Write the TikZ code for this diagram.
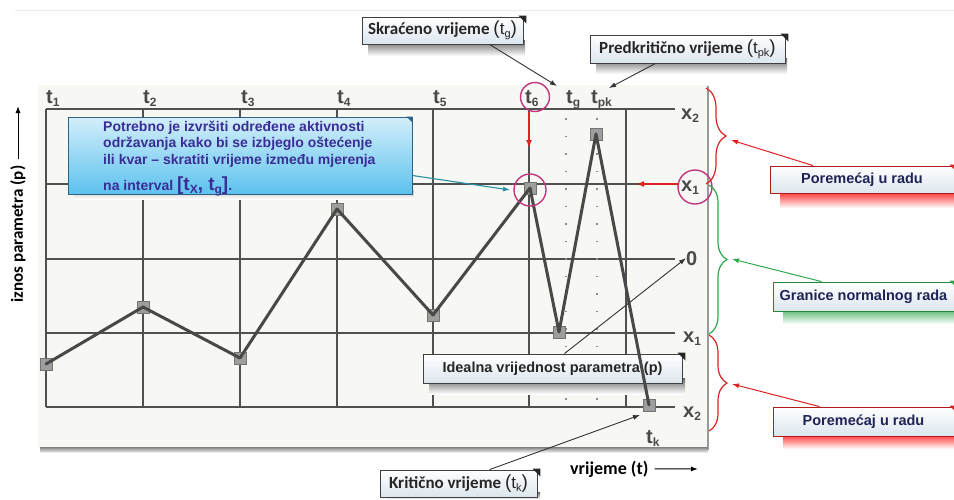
\documentclass[tikz,border=0pt]{standalone}
\usepackage{fontspec}
\setmainfont{Liberation Sans}
\newfontfamily\calfont{Carlito}
\usetikzlibrary{arrows.meta,decorations.pathreplacing}
\definecolor{gridc}{HTML}{505050}
\definecolor{glabc}{HTML}{4A4A4A}
\definecolor{paperc}{HTML}{F7F7F3}
\definecolor{mag}{HTML}{C2367E}
\definecolor{redc}{HTML}{DD2222}
\definecolor{greenc}{HTML}{2EA84A}
\definecolor{navy}{HTML}{1E2456}
\definecolor{bluetxt}{HTML}{3A2E96}
\definecolor{bluebord}{HTML}{2D6485}
\definecolor{bluetop}{HTML}{D4EEFA}
\definecolor{bluebot}{HTML}{5CC2EE}
\definecolor{tealc}{HTML}{2A8EA6}
\definecolor{boxbot}{HTML}{DCE5EE}
\definecolor{dl}{HTML}{484848}
\newcommand{\sbs}[2][11]{\raisebox{-0.3ex}{\fontsize{#1}{#1}\selectfont #2}}
\begin{document}
\begin{tikzpicture}[x=1pt,y=-1pt,
  gridl/.style={draw=gridc, line width=1.2pt},
  dotl/.style={draw=black!45, line width=1.5pt, dash pattern=on 1.5pt off 16pt},
  sq/.style={draw=black!55, fill=black!38, minimum size=12pt, inner sep=0pt, line width=0.8pt},
  dline/.style={draw=dl, line width=3pt, line join=round, line cap=round},
  glab/.style={anchor=base west, inner sep=0pt, text=glabc, font=\fontsize{20}{20}\selectfont\bfseries},
  magc/.style={circle, draw=mag, line width=1.4pt, inner sep=0pt},
  wbox/.style={draw=black!75, line width=0.8pt, top color=white, bottom color=boxbot, inner sep=0pt, text=black!85, font=\calfont\fontsize{17}{17}\selectfont\bfseries},
  cbox/.style={line width=0.9pt, top color=white, bottom color=boxbot, inner sep=0pt, text=navy, font=\fontsize{14.5}{14.5}\selectfont\bfseries},
  blk/.style={draw=black!80, line width=0.9pt, -{Latex[length=7pt,width=5pt]}},
  rarr/.style={draw=redc, line width=1pt, -{Latex[length=7pt,width=5pt]}},
  garr/.style={draw=greenc, line width=1pt, -{Latex[length=7pt,width=5pt]}},
  flag/.style={fill=black!85},
  axl/.style={text=black, font=\calfont\fontsize{18}{18}\selectfont\bfseries, inner sep=0pt}
]
\useasboundingbox (0,0) rectangle (954,499);
\fill[white] (0,0) rectangle (954,499);
\draw[black!8, line width=1pt] (15,10) -- (954,10);

% paper
\fill[paperc] (38,85) rectangle (708,448);
\shade[top color=black!50, bottom color=white] (40,447) rectangle (708,453);
\draw[black!40, line width=1.6pt] (708,86) -- (708,450);

% grid
\foreach \x in {46,143,240,337,433,529,626} \draw[gridl] (\x,109) -- (\x,407);
\foreach \y in {109,184,259,333,407} \draw[gridl] (46,\y) -- (675,\y);
\draw[dotl] (566,118) -- (566,405);
\draw[dotl] (597,118) -- (597,405);

% grid labels
\node[glab] (t1) at (46,103) {t\sbs[12]{1}};
\node[glab] (t2) at (143,103) {t\sbs[12]{2}};
\node[glab] (t3) at (241,103) {t\sbs[12]{3}};
\node[glab] (t4) at (337,103) {t\sbs[12]{4}};
\node[glab] (t5) at (433,103) {t\sbs[12]{5}};
\node[glab] (t6) at (525,103) {t\sbs[12]{6}};
\node[glab] (tg) at (566,103) {t\sbs[12]{g}};
\node[glab] (tpk) at (591,103) {t\sbs[12]{pk}};
\node[glab] (tk) at (646,443) {t\sbs[12]{k}};
\node[glab] (x2a) at (681,119) {x\sbs[12]{2}};
\node[glab] (x1a) at (681,191) {x\sbs[12]{1}};
\node[glab] (zero) at (686,265) {0};
\node[glab] (x1b) at (683,342) {x\sbs[12]{1}};
\node[glab] (x2b) at (683,417) {x\sbs[12]{2}};

% shadows
\shade[top color=black!60, bottom color=white] (368,40) rectangle (525,56);
\shade[top color=black!60, bottom color=white] (596,58) rectangle (787,74);
\shade[top color=black!60, bottom color=white] (429,378) rectangle (685,394);
\shade[top color=black!60, bottom color=white] (386,492) rectangle (540,499);
\shade[top color=red, middle color=red!85, bottom color=white] (780,188) rectangle (954,208);
\shade[top color=greenc, middle color=greenc!80, bottom color=white] (783,306) rectangle (954,324);
\shade[top color=red, middle color=red!85, bottom color=white] (783,431) rectangle (954,449);
\shade[top color=black!25, bottom color=white] (74,190) rectangle (414,199);

% ideal callout (under the data line)
\node[cbox, draw=black!75, text=black!85, minimum width=259pt, minimum height=29pt] (ideal) at (552.5,368.5)
 {Idealna vrijednost parametra (p)};
\fill[flag] ([xshift=-5pt,yshift=1pt]ideal.north east) -- ++(8,0) -- ++(0,8) -- cycle;

% data
\node[sq] (p1) at (46,364) {};
\node[sq] (p2) at (143,307) {};
\node[sq] (p3) at (240,358) {};
\node[sq] (p4) at (337,209) {};
\node[sq] (p5) at (433,315) {};
\node[sq] (p6) at (530,188) {};
\node[sq] (p7) at (559,332) {};
\node[sq] (p8) at (596,134) {};
\node[sq] (p9) at (649,405) {};
\draw[dline] (p1.center) -- (p2.center) -- (p3.center) -- (p4.center) -- (p5.center) -- (p6.center) -- (p7.center) -- (p8.center) -- (p9.center);

% magenta circles
\node[magc, minimum size=29pt] (c6) at (535,97) {};
\node[magc, minimum size=32pt] (cp6) at (530,190) {};
\node[magc, minimum size=34pt] (cx1) at (695,187) {};

% red arrows
\coordinate (r1s) at (529,112);
\coordinate (r1e) at (529,148);
\draw[draw=redc, line width=1.6pt, -{Latex[length=8pt,width=6pt]}] (r1s) -- (r1e);
\coordinate (r2s) at (678,184);
\coordinate (r2e) at (636,184);
\draw[draw=redc, line width=1.8pt, -{Latex[length=8pt,width=6pt]}] (r2s) -- (r2e);

% braces
\draw[redc, line width=1.2pt, decorate, decoration={brace, amplitude=20pt}] (706,88) -- (706,184);
\draw[greenc, line width=1.2pt, decorate, decoration={brace, amplitude=18pt}] (709,185) -- (709,334);
\draw[redc, line width=1.2pt, decorate, decoration={brace, amplitude=18pt}] (709,335) -- (709,431);
\coordinate (b1) at (731,140);
\coordinate (b2) at (732,259);
\coordinate (b3) at (732,384);

% blue callout
\node[draw=bluebord, line width=1pt, top color=bluetop, bottom color=bluebot, minimum width=344pt, minimum height=77pt, inner sep=0pt] (blue) at (240,155.5) {};
\fill[bluebord] ([xshift=-6pt,yshift=0pt]blue.north east) -- ++(6,0) -- ++(0,6) -- cycle;
\node[anchor=north west, inner sep=0pt, align=left, text=bluetxt, font=\fontsize{14}{16.5}\selectfont\bfseries] (btxt) at (103,120.5)
 {Potrebno je izvršiti određene aktivnosti\\
  održavanja kako bi se izbjeglo oštećenje\\
  ili kvar -- skratiti vrijeme između mjerenja\\[9pt]
  na interval {\fontsize{19}{19}\selectfont[t\sbs[12]{X}, t\sbs[12]{g}]}.};
\coordinate (tealend) at (510,190);
\draw[draw=tealc, line width=1.1pt, -{Latex[length=7pt,width=5pt]}] ([yshift=-20pt]blue.east) -- (tealend);

% white callouts
\node[wbox, minimum width=161pt, minimum height=27pt] (skr) at (442.5,30.5)
 {Skraćeno vrijeme \textmd{\fontspec{Liberation Sans}\fontsize{19}{19}\selectfont(\fontsize{17}{17}\selectfont t\sbs[11]{g}\fontsize{19}{19}\selectfont)}};
\fill[flag] ([xshift=-5pt,yshift=1pt]skr.north east) -- ++(8,0) -- ++(0,8) -- cycle;
\node[wbox, minimum width=195pt, minimum height=28pt] (pred) at (687.5,49)
 {Predkritično vrijeme \textmd{\fontspec{Liberation Sans}\fontsize{19}{19}\selectfont(\fontsize{17}{17}\selectfont t\sbs[11]{pk}\fontsize{19}{19}\selectfont)}};
\fill[flag] ([xshift=-5pt,yshift=1pt]pred.north east) -- ++(8,0) -- ++(0,8) -- cycle;
\node[wbox, minimum width=157pt, minimum height=27pt] (krit) at (458.5,483.5)
 {Kritično vrijeme \textmd{\fontspec{Liberation Sans}\fontsize{19}{19}\selectfont(\fontsize{17}{17}\selectfont t\sbs[11]{k}\fontsize{19}{19}\selectfont)}};
\fill[flag] ([xshift=-5pt,yshift=1pt]krit.north east) -- ++(8,0) -- ++(0,8) -- cycle;

% colored callouts
\node[cbox, draw=redc!80!black, minimum width=184pt, minimum height=27pt] (pore1) at (862,179.5) {Poremećaj u radu};
\fill[redc] ([xshift=-5pt,yshift=1pt]pore1.north east) -- ++(8,0) -- ++(0,8) -- cycle;
\node[cbox, draw=greenc!80!black, minimum width=181pt, minimum height=29pt] (gran) at (863.5,296.5) {Granice normalnog rada};
\fill[greenc] ([xshift=-5pt,yshift=1pt]gran.north east) -- ++(8,0) -- ++(0,8) -- cycle;
\node[cbox, draw=redc!80!black, minimum width=181pt, minimum height=29pt] (pore2) at (863.5,421.5) {Poremećaj u radu};
\fill[redc] ([xshift=-5pt,yshift=1pt]pore2.north east) -- ++(8,0) -- ++(0,8) -- cycle;

% connectors
\coordinate (tgpt) at (557,86);
\coordinate (tpkpt) at (609,88);
\coordinate (tkpt) at (640,415);
\draw[blk] ([xshift=47pt]skr.south) -- (tgpt);
\draw[blk] ([xshift=-32pt]pred.south) -- (tpkpt);
\draw[blk] ([xshift=12pt]ideal.north) -- (zero.west);
\draw[blk] ([xshift=31pt]krit.north) -- (tkpt);
\draw[rarr] ([xshift=-49pt]pore1.north) -- (b1);
\draw[garr] ([xshift=-42pt]gran.north) -- (b2);
\draw[rarr] ([xshift=-44pt]pore2.north) -- (b3);

% axis labels
\node[axl, rotate=90, anchor=west, font=\calfont\fontsize{17}{17}\selectfont\bfseries] (ylab) at (18,303) {iznos parametra (p)};
\coordinate (ytip) at (18,106);
\draw[black, line width=1pt, -{Latex[length=7pt,width=5pt]}] ([yshift=6pt]ylab.east) -- (ytip);
\node[axl, anchor=base west] (xlab) at (570,474) {vrijeme (t)};
\coordinate (xtip) at (698,469);
\draw[black, line width=1pt, -{Latex[length=7pt,width=5pt]}] ([xshift=6pt]xlab.east) -- (xtip);
\end{tikzpicture}
\end{document}
